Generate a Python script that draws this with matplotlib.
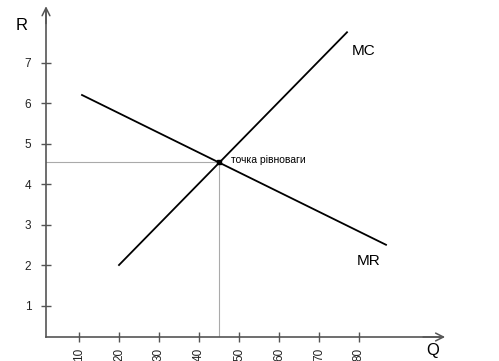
import numpy as np
import matplotlib.pyplot as plt

plt.rcParams['font.family'] = ['Liberation Sans', 'DejaVu Sans']

# дані
mc_q = [20, 77]
mc_r = [2.0, 7.75]
mr_q = [10.75, 86.75]
mr_r = [6.2, 2.5]
eq_q = 45
eq_r = 4.54
xticks = [10, 20, 30, 40, 50, 60, 70, 80]
yticks = [1, 2, 3, 4, 5, 6, 7]

fig = plt.figure(figsize=(4.99, 3.61), dpi=100)
ax = fig.add_axes([46/499, 24/361, 394/499, 327/361])
ax.set_xlim(1.75, 100.25)
ax.set_ylim(0.222, 8.30)

axcol = '#555555'
for s in ['top', 'right']:
	ax.spines[s].set_visible(False)
for s in ['left', 'bottom']:
	ax.spines[s].set_color(axcol)
	ax.spines[s].set_linewidth(1.2)

ax.set_xticks(xticks)
ax.set_yticks(yticks)
ax.tick_params(direction='inout', length=7, width=1, color=axcol, labelsize=8.5, labelcolor='#222222')
ax.tick_params(axis='x', labelrotation=90, pad=4)
ax.tick_params(axis='y', pad=7)

# стрілки осей
ax.annotate('', xy=(1.02, 0), xycoords='axes fraction', xytext=(0.95, 0),
	arrowprops=dict(arrowstyle='->', color=axcol, lw=1.1, mutation_scale=14))
ax.annotate('', xy=(0, 1.02), xycoords='axes fraction', xytext=(0, 0.95),
	arrowprops=dict(arrowstyle='->', color=axcol, lw=1.1, mutation_scale=14))

# допоміжні лінії
ax.plot([1.75, eq_q], [eq_r, eq_r], color='#aaaaaa', lw=0.8)
ax.plot([eq_q, eq_q], [0.222, eq_r], color='#aaaaaa', lw=0.8)

ax.plot(mc_q, mc_r, color='black', lw=1.3)
ax.plot(mr_q, mr_r, color='black', lw=1.3)
ax.plot([eq_q], [eq_r], 's', color='black', ms=3.5)

ax.text(eq_q + 3, eq_r + 0.05, 'точка рівноваги', fontsize=7.5, va='center')
ax.text(78.3, 7.18, 'MC', fontsize=11)
ax.text(79.5, 2.0, 'MR', fontsize=11)

fig.text(22/499, 1 - 26/361, 'R', fontsize=12, ha='center', va='center')
fig.text(433/499, 1 - 350/361, 'Q', fontsize=12, ha='center', va='center')

fig.savefig('out.png', dpi=100)
